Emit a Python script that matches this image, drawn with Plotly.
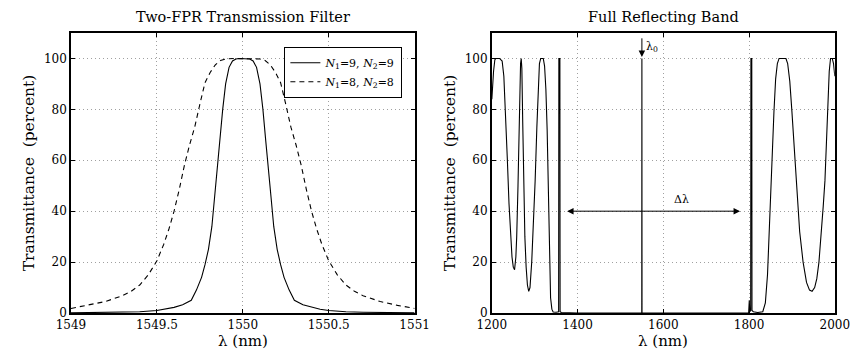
import plotly.graph_objects as go

# ---------------- data ----------------
lam_left = [1549.0, 1549.2, 1549.3, 1549.4, 1549.5, 1549.55, 1549.6, 1549.65, 1549.7, 1549.73,
            1549.76, 1549.78, 1549.8, 1549.82, 1549.835, 1549.85, 1549.867, 1549.883,
            1549.9, 1549.92, 1549.94, 1549.96, 1549.98, 1550.0,
            1550.02, 1550.04, 1550.06, 1550.08, 1550.1, 1550.117, 1550.133, 1550.15,
            1550.165, 1550.18, 1550.2, 1550.22, 1550.24, 1550.27,
            1550.3, 1550.35, 1550.4, 1550.45, 1550.5, 1550.6, 1550.7, 1550.8, 1551.0]
T_n9 = [0.08, 0.18, 0.3, 0.5, 1.0, 1.5, 2.2, 3.2, 5.0, 9.0,
        14.0, 19.0, 25.0, 34.0, 45.0, 57.0, 68.0, 80.0,
        90.0, 96.5, 99.0, 99.8, 100.0, 100.0,
        100.0, 99.8, 99.0, 96.5, 90.0, 80.0, 68.0, 57.0,
        45.0, 34.0, 25.0, 19.0, 14.0, 9.0,
        5.0, 3.2, 2.2, 1.5, 1.0, 0.5, 0.3, 0.18, 0.08]

lam_left8 = [1549.0, 1549.1, 1549.2, 1549.3, 1549.35, 1549.4, 1549.45, 1549.5, 1549.54,
             1549.57, 1549.6, 1549.63, 1549.66, 1549.69, 1549.72, 1549.75, 1549.78, 1549.81,
             1549.84, 1549.87, 1549.9, 1549.95, 1550.0, 1550.05, 1550.1, 1550.13, 1550.16,
             1550.19, 1550.22, 1550.25, 1550.28, 1550.31, 1550.34, 1550.37, 1550.4, 1550.43,
             1550.46, 1550.5, 1550.55, 1550.6, 1550.65, 1550.7, 1550.8, 1550.9, 1551.0]
T_n8 = [1.8, 3.0, 4.5, 6.8, 8.5, 11.0, 15.0, 20.5, 27.0,
        33.0, 40.0, 48.5, 58.0, 66.0, 73.0, 82.0, 90.5, 94.5,
        97.5, 99.2, 99.8, 100.0, 100.0, 100.0, 99.8, 99.2, 97.5,
        94.5, 90.5, 82.0, 73.0, 66.0, 58.0, 48.5, 40.0, 33.0,
        27.0, 20.5, 15.0, 11.0, 8.5, 6.8, 4.5, 3.0, 1.8]

lam_right = [1200, 1202, 1204, 1207, 1210, 1218, 1224, 1228, 1232, 1236, 1240, 1244, 1247, 1250,
             1253, 1256, 1258, 1261, 1263, 1265, 1267, 1268.5, 1270, 1272, 1274, 1277, 1280, 1283,
             1286, 1289, 1293, 1297, 1301, 1305, 1308, 1311, 1314, 1320, 1323, 1326, 1329, 1332,
             1335, 1337, 1340, 1343, 1350, 1355.8, 1356.3, 1358.7, 1359.2, 1362, 1400, 1500,
             1549.7, 1550.0, 1550.3, 1600, 1700, 1799, 1800.5, 1801.5, 1803.8, 1804.3, 1806.3,
             1806.8, 1810, 1820, 1832, 1838, 1843, 1847, 1851, 1855, 1858, 1862, 1866, 1870,
             1886, 1890, 1895, 1900, 1906, 1912, 1918, 1926, 1934, 1941, 1947, 1953, 1958, 1963,
             1968, 1973, 1977, 1981, 1984, 1987, 1990, 1994, 1997, 2000]
T_right = [84, 90, 95, 99.5, 100, 100, 99, 93, 79, 61, 43, 30, 22, 18,
           17, 22, 30, 50, 70, 88, 98, 100, 96, 75, 52, 30, 18, 11,
           8.5, 10, 20, 35, 52, 73, 88, 98, 100, 100, 97, 88, 72, 45,
           18, 6, 1.5, 0.4, 0.3, 0.5, 100, 100, 0.5, 0.2, 0.0, 0.0,
           0.0, 100, 0.0, 0.0, 0.0, 0.0, 5, 0.5, 1, 100, 100,
           1, 0.5, 0.2, 0.5, 4, 15, 33, 52, 68, 79, 92, 98, 100,
           100, 98, 91, 79, 63, 46, 32, 20, 12, 9, 8.5, 10, 13.5, 20,
           30, 42, 52, 70, 85, 95, 100, 100, 98, 93]

legend_labels = ["<i>N</i><sub>1</sub>=9, <i>N</i><sub>2</sub>=9",
                 "<i>N</i><sub>1</sub>=8, <i>N</i><sub>2</sub>=8"]
titles = ["Two-FPR Transmission Filter", "Full Reflecting Band"]
xticks_left = [1549, 1549.5, 1550, 1550.5, 1551]
xticks_right = [1200, 1400, 1600, 1800, 2000]
yticks = [0, 20, 40, 60, 80, 100]
lam0 = 1550
dl_left, dl_right, dl_y = 1372, 1779, 40

# ---------------- figure ----------------
FONT = "DejaVu Serif"
W, H = 864, 352
mt, mb = 33, 38.5
ph = H - mt - mb

fig = go.Figure()
fig.add_trace(go.Scatter(x=lam_left, y=T_n9, mode="lines", name=legend_labels[0],
                         line=dict(color="black", width=1.1), xaxis="x", yaxis="y"))
fig.add_trace(go.Scatter(x=lam_left8, y=T_n8, mode="lines", name=legend_labels[1],
                         line=dict(color="black", width=1.1, dash="5px,4px"), xaxis="x", yaxis="y"))
fig.add_trace(go.Scatter(x=lam_right, y=T_right, mode="lines", showlegend=False,
                         line=dict(color="black", width=1.1), xaxis="x2", yaxis="y2"))

axis_common = dict(showline=True, linecolor="black", linewidth=1.6, mirror="ticks",
                   ticks="inside", ticklen=4, tickcolor="black", showgrid=True,
                   gridcolor="#a0a0a0", griddash="1px,3px", gridwidth=1, zeroline=False,
                   tickfont=dict(family=FONT, size=12, color="black"))
ytitle = dict(text="Transmittance  (percent)", standoff=5,
              font=dict(family=FONT, size=15.5, color="black"))

fig.update_layout(
    width=W, height=H, margin=dict(l=0, r=0, t=mt, b=mb),
    paper_bgcolor="white", plot_bgcolor="white",
    font=dict(family=FONT, color="black"),
    xaxis=dict(domain=[58 / W, 414 / W], range=[1549, 1551], tickvals=xticks_left,
               ticktext=[f"{v:g}" for v in xticks_left], anchor="y", **axis_common),
    yaxis=dict(domain=[0, 1], range=[0, 110], tickvals=yticks, anchor="x", title=ytitle,
               **axis_common),
    xaxis2=dict(domain=[494 / W, 849.3 / W], range=[1200, 2000], tickvals=xticks_right,
                anchor="y2", **axis_common),
    yaxis2=dict(domain=[0, 1], range=[0, 110], tickvals=yticks, anchor="x2", title=ytitle,
                **axis_common),
    legend=dict(x=401 / W, xanchor="right", y=1 - (47 - mt) / ph, yanchor="top",
                bgcolor="white", bordercolor="black", borderwidth=1.3,
                font=dict(family=FONT, size=11, color="black"), tracegroupgap=0),
    showlegend=True,
)

def py(px):
    return (H - mb - px) / ph

ann = []
centers = [(58 + 414) / 2 / W, (494 + 849.3) / 2 / W]
for i, t in enumerate(titles):
    ann.append(dict(text=t, x=centers[i], y=py(17), xref="paper", yref="paper",
                    xanchor="center", yanchor="middle", showarrow=False,
                    font=dict(family=FONT, size=14.5, color="black")))
    ann.append(dict(text="λ (nm)", x=centers[i], y=py(342), xref="paper", yref="paper",
                    xanchor="center", yanchor="middle", showarrow=False,
                    font=dict(family=FONT, size=15, color="black")))

# lambda0 arrow
ann.append(dict(x=lam0, y=100.6, ax=lam0, ay=108.5, xref="x2", yref="y2", axref="x2",
                ayref="y2", text="", showarrow=True, arrowhead=2, arrowsize=1.3,
                arrowwidth=1, arrowcolor="black"))
ann.append(dict(x=lam0 + 6, y=104.5, xref="x2", yref="y2", text="λ<sub>0</sub>",
                showarrow=False, xanchor="left", yanchor="middle",
                font=dict(family=FONT, size=11, color="black")))
# delta lambda arrow
ann.append(dict(x=dl_right, y=dl_y, ax=dl_left, ay=dl_y, xref="x2", yref="y2", axref="x2",
                ayref="y2", text="", showarrow=True, arrowhead=2, startarrowhead=2,
                arrowside="end+start", arrowsize=1.3, arrowwidth=1, arrowcolor="black"))
ann.append(dict(x=1643, y=41.2, xref="x2", yref="y2", text="Δλ", showarrow=False,
                xanchor="center", yanchor="bottom",
                font=dict(family=FONT, size=11, color="black")))
fig.update_layout(annotations=ann)

fig.write_html("out.html")
